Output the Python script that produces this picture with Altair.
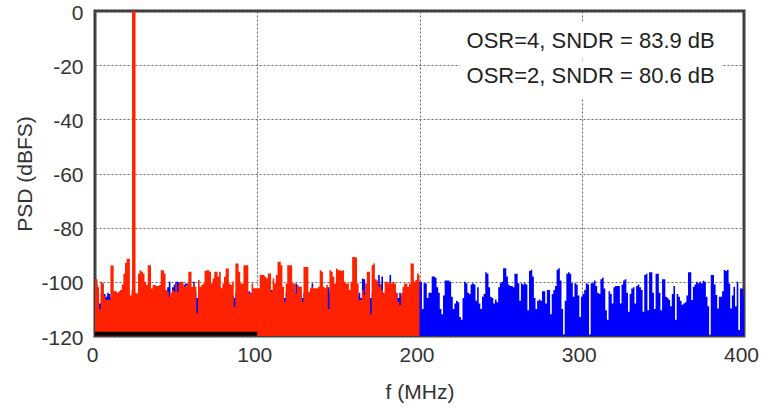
import altair as alt
import pandas as pd

# ---- data ----
red_db = [
    -99, -99, -102, -110, -100, -100.5, -105, -106.7, -106.5, -106.7,
    -94, -94, -103.5, -103.5, -104, -103.5, -103, -101, -97, -93,
    -91.5, -91.5, -105, -103, -103, -104, -104.3, -97, -95.7, -96.3,
    -96.9, -100, -101.2, -93.9, -93.9, -102.5, -101.2, -101.2, -101.5, -101.5,
    -101.2, -95.7, -95.7, -96.9, -103, -103.7, -105.5, -104, -103, -103.7,
    -100.6, -103.7, -100.6, -100, -100, -101.8, -101.2, -101.2, -96.3, -96.3,
    -101.8, -100.6, -101.8, -111.6, -99.3, -101.8, -101.2, -100.6, -96, -95.7,
    -95.7, -96.3, -100.6, -98.8, -96.3, -96.3, -98, -96.3, -102.4, -100.6,
    -98.1, -95.1, -95.1, -100.6, -101.2, -100, -109.2, -93.2, -93.2, -96.3,
    -100.6, -100.6, -93.9, -93.9, -93.9, -104.3, -104.3, -100.6, -102.4, -102.4,
    -102.4, -102.4, -97.5, -97.5, -97.5, -98.1, -98.8, -96.9, -96.9, -103.7,
    -98.8, -100.6, -97.5, -92.6, -92.6, -93.9, -101.8, -107.4, -100.6, -93.9,
    -93.9, -93.9, -100.6, -100.6, -104.3, -101.2, -101.8, -101.8, -107.4, -94.5,
    -94.5, -94.5, -103.7, -102.4, -101.8, -102.4, -102.4, -102.4, -101.8, -95.7,
    -96.3, -101.8, -102.4, -101.2, -110, -95.7, -96.3, -98.1, -100.6, -95.1,
    -95.7, -95.7, -96, -95.7, -100, -100.6, -100.6, -103, -100, -90.8,
    -90.8, -91, -100.6, -106.7, -106.7, -103, -104.9, -100.6, -96.3, -96.3,
    -112, -93.9, -93.2, -99, -99.5, -101.8, -101, -103, -104.3, -100,
    -100, -100.6, -100, -100.6, -100, -100.6, -104.3, -107.4, -108.6, -104.3,
    -101.8, -100.6, -100.6, -101.8, -100.6, -93.2, -93.2, -99.9, -99.3, -96.9,
    -97.5,
]

blue_low_db = [
    -100, -101, -104, -108, -104.5, -104, -104.5, -105.5, -104, -104.5,
    -106, -106, -103.7, -104, -107, -104.5, -103, -104, -106, -105,
    -106, -107, -108, -108, -108, -106, -107, -105, -106, -104,
    -105, -103, -104, -106, -107, -105.5, -104, -106, -105, -104,
    -106, -104, -105, -104, -104.5, -102, -100, -108, -102, -101,
    -100, -100, -100.2, -102, -104, -101, -100.6, -100.6, -102, -104,
    -103, -100, -104, -106, -105, -103, -104, -105, -103, -104,
    -106, -105, -104, -103, -98.8, -104, -105, -102, -104, -105,
    -104, -106, -105, -104, -103, -105, -106, -104, -105, -104,
    -103, -105, -106, -104, -105, -103.5, -104, -106, -104, -105,
    -103, -104, -105, -98.8, -98.8, -103, -104, -105, -104, -103,
    -103.5, -105, -104, -106, -104, -105, -104, -106, -104, -105,
    -106, -104, -105, -104, -100.6, -102, -104, -105, -106, -104,
    -105, -104, -106, -103, -100.6, -103, -104, -105, -104, -106,
    -104, -105, -104, -102, -102, -104, -105, -104, -106, -104,
    -105, -104, -106, -104, -105, -104, -106, -104, -105, -104,
    -106, -104, -105, -104, -106, -98.8, -99, -104, -105, -104,
    -106, -104, -105, -104, -103, -97.5, -101, -98, -104, -105,
    -104, -101, -97.5, -102, -104, -105, -104, -106, -104, -105,
    -104, -106, -104, -105, -104, -106, -104, -105, -104, -102,
]

blue_high_db = [
    -100, -100, -110, -100.5, -100.5, -106, -104, -104, -98, -98,
    -98.5, -102, -104, -110, -112, -105, -99.5, -99.5, -99.5, -100,
    -105.5, -110, -108, -107, -107.5, -113, -114, -106, -100, -100.5,
    -104, -104.5, -101, -100.5, -101, -107, -102, -108, -110, -105.5,
    -104.5, -96.5, -97, -102, -105.5, -106, -108, -106.5, -107.5, -102,
    -100.5, -100, -95, -95, -98, -101, -101.5, -101.5, -102, -97,
    -97, -100.5, -107, -100.5, -101, -100.5, -101, -110.5, -96, -95.5,
    -98, -106, -110, -107, -106.5, -107, -103.5, -103.5, -108, -103,
    -103, -112, -104.5, -103, -101.5, -95.5, -95, -99.5, -110, -119.5,
    -107, -97, -96.5, -97, -100.5, -105.5, -100.5, -101, -105, -113,
    -105.5, -104.5, -103, -100.5, -101, -119.5, -100.5, -100.5, -99.5, -101.5,
    -104, -104.5, -99, -98.5, -102.5, -110.5, -114, -103.5, -104.5, -108,
    -102, -101.5, -101.5, -101.5, -108, -101, -99.5, -99, -104, -111,
    -104.5, -102.5, -102, -108, -101.5, -101, -102, -103, -111, -97.5,
    -97, -110.5, -96.5, -96.5, -104, -110, -97, -97, -104, -110.5,
    -99, -99, -105.5, -106, -106.7, -109, -104.5, -101.5, -114, -104.5,
    -105.5, -107, -108.5, -108, -107.5, -105, -96.5, -96.5, -106.7, -101.8,
    -101, -100, -100.5, -100, -100.6, -99.6, -100, -105.5, -109, -120,
    -97.5, -97.5, -101, -104.9, -109.8, -105.5, -105.5, -103.5, -95.6, -96,
    -95.5, -100.6, -109.8, -105, -101.8, -109, -100, -117.8, -102.5, -102.5,
    -105.5,
]

tone_f = [23.9]
tone_db = [0]

floor_f = [0, 100]
floor_db = [-119.2, -119.2]

notes = ["OSR=4, SNDR = 83.9 dB", "OSR=2, SNDR = 80.6 dB"]
note_f = [229, 229]
note_db = [-11.1, -24.0]
box_f1 = [225, 225]
box_f2 = [386, 386]
box_top = [-4.0, -18.2]
box_bot = [-17.2, -32.2]

x_ticks = [0, 100, 200, 300, 400]
y_ticks = [0, -20, -40, -60, -80, -100, -120]

RED = "#ff2200"
BLUE = "#0000ff"
FONT = "Liberation Sans"

blue_db = blue_low_db + blue_high_db
blue_df = pd.DataFrame({"f": list(range(len(blue_db))), "db": blue_db})
red_df = pd.DataFrame({"f": list(range(len(red_db))), "db": red_db})
tone_df = pd.DataFrame({"f": tone_f, "db": tone_db})
floor_df = pd.DataFrame({"f": floor_f, "db": floor_db})
note_df = pd.DataFrame({"t": notes, "f": note_f, "db": note_db})
box_df = pd.DataFrame({"f1": box_f1, "f2": box_f2, "top": box_top, "bot": box_bot})

xscale = alt.Scale(domain=[0, 400], nice=False, zero=False)
yscale = alt.Scale(domain=[-120, 0], nice=False, zero=False)

xaxis = alt.Axis(values=x_ticks, title="f (MHz)", grid=True, domain=False,
                 ticks=False, tickSize=0, labelPadding=8, labelFlush=False,
                 labelOffset=-3, labelExpr="'' + datum.value",
                 titleX=324.5, titleY=56, titleBaseline="middle", titleAlign="center")
yaxis = alt.Axis(values=y_ticks, title="PSD (dBFS)", grid=True, domain=False,
                 ticks=False, tickSize=0, labelPadding=12, labelFlush=False,
                 labelOffset=2, labelExpr="'' + datum.value",
                 titleX=-69.5, titleY=162.5, titleAngle=-90,
                 titleBaseline="middle", titleAlign="center")

blue = alt.Chart(blue_df).mark_area(color=BLUE, interpolate="step").encode(
    x=alt.X("f:Q", scale=xscale, axis=xaxis),
    y=alt.Y("db:Q", scale=yscale, axis=yaxis),
    y2=alt.datum(-120),
)
red = alt.Chart(red_df).mark_area(color=RED, interpolate="step").encode(
    x=alt.X("f:Q", scale=xscale),
    y=alt.Y("db:Q", scale=yscale),
    y2=alt.datum(-120),
)
tone = alt.Chart(tone_df).mark_rule(color=RED, strokeWidth=3.5).encode(
    x=alt.X("f:Q", scale=xscale),
    y=alt.Y("db:Q", scale=yscale),
    y2=alt.datum(-118),
)
floor = alt.Chart(floor_df).mark_line(color="#000000", strokeWidth=4).encode(
    x=alt.X("f:Q", scale=xscale),
    y=alt.Y("db:Q", scale=yscale),
)
boxes = alt.Chart(box_df).mark_rect(color="white").encode(
    x=alt.X("f1:Q", scale=xscale), x2="f2:Q",
    y=alt.Y("top:Q", scale=yscale), y2="bot:Q",
)
text = alt.Chart(note_df).mark_text(align="left", baseline="middle", font=FONT,
                                    fontSize=22, color="#222222").encode(
    x=alt.X("f:Q", scale=xscale),
    y=alt.Y("db:Q", scale=yscale),
    text="t:N",
)

chart = alt.layer(blue, red, tone, floor, boxes, text).properties(
    width=649, height=325,
    autosize=alt.AutoSizeParams(type="none"),
    padding={"left": 95, "top": 11, "right": 17, "bottom": 75},
    background="white",
).configure_view(
    stroke="#3a3a3a", strokeWidth=3,
).configure_axis(
    labelFont=FONT, labelFontSize=21, labelColor="#333333",
    titleFont=FONT, titleFontSize=21, titleColor="#333333", titleFontWeight="normal",
    gridColor="#555555", gridDash=[2, 2], gridWidth=1, gridOpacity=0.9,
)

chart.save("out.html", embed_options={"renderer": "svg", "actions": False})
